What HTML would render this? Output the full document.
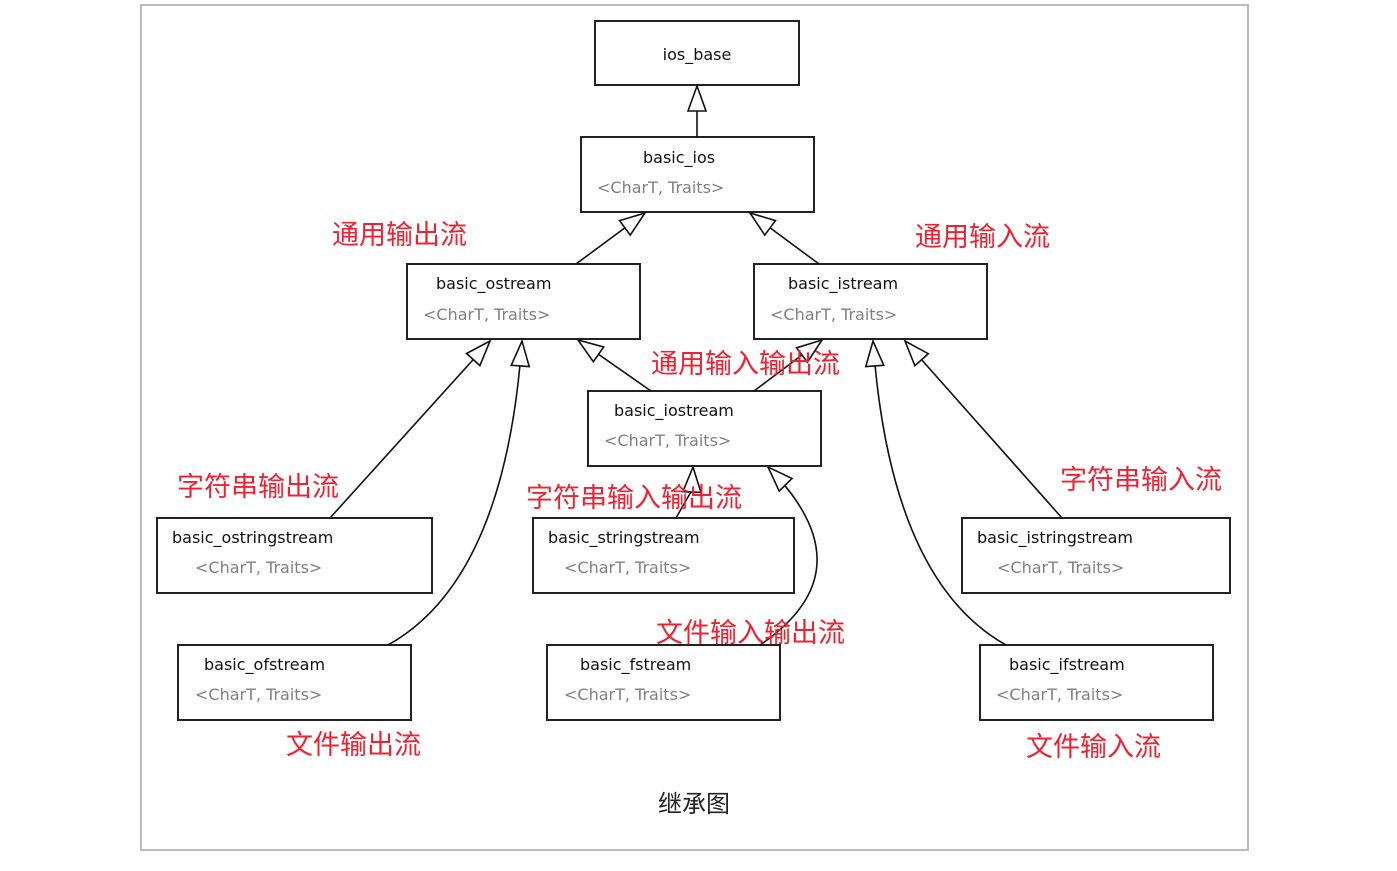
<!DOCTYPE html>
<html><head><meta charset="utf-8"><style>
body{margin:0;background:#fff}
svg{display:block}
.n{font-family:"DejaVu Sans","Liberation Sans",sans-serif;font-size:16px;fill:#111}
.t{font-family:"DejaVu Sans","Liberation Sans",sans-serif;font-size:16px;fill:#808080}
.r{font-family:"Liberation Sans","Noto Sans CJK SC",sans-serif;font-size:27px;fill:#ee2233}
.b{fill:#fff;stroke:#222;stroke-width:2}
.l{fill:none;stroke:#111;stroke-width:1.6}
</style></head><body>
<svg width="1397" height="871" viewBox="0 0 1397 871">
<defs>
<marker id="a" markerUnits="userSpaceOnUse" viewBox="-2 -11 29 22" refX="25" refY="0" markerWidth="29" markerHeight="22" orient="auto">
<path d="M0,-9 L25,0 L0,9 Z" fill="#fff" stroke="#111" stroke-width="1.6"/>
</marker>
</defs>
<rect x="141" y="5" width="1107" height="845" fill="#fff" stroke="#bbb" stroke-width="2"/>
<rect class="b" x="595" y="21" width="204" height="64"/>
<text class="n" x="697" y="60" text-anchor="middle">ios_base</text>
<rect class="b" x="581" y="137" width="233" height="75"/>
<text class="n" x="643" y="163">basic_ios</text><text class="t" x="597" y="193">&lt;CharT, Traits&gt;</text>
<rect class="b" x="407" y="264" width="233" height="75"/>
<text class="n" x="436" y="289">basic_ostream</text><text class="t" x="423" y="320">&lt;CharT, Traits&gt;</text>
<rect class="b" x="754" y="264" width="233" height="75"/>
<text class="n" x="788" y="289">basic_istream</text><text class="t" x="770" y="320">&lt;CharT, Traits&gt;</text>
<rect class="b" x="588" y="391" width="233" height="75"/>
<text class="n" x="614" y="416">basic_iostream</text><text class="t" x="604" y="446">&lt;CharT, Traits&gt;</text>
<rect class="b" x="157" y="518" width="275" height="75"/>
<text class="n" x="172" y="543">basic_ostringstream</text><text class="t" x="195" y="573">&lt;CharT, Traits&gt;</text>
<rect class="b" x="533" y="518" width="261" height="75"/>
<text class="n" x="548" y="543">basic_stringstream</text><text class="t" x="564" y="573">&lt;CharT, Traits&gt;</text>
<rect class="b" x="962" y="518" width="268" height="75"/>
<text class="n" x="977" y="543">basic_istringstream</text><text class="t" x="997" y="573">&lt;CharT, Traits&gt;</text>
<rect class="b" x="178" y="645" width="233" height="75"/>
<text class="n" x="204" y="670">basic_ofstream</text><text class="t" x="195" y="700">&lt;CharT, Traits&gt;</text>
<rect class="b" x="547" y="645" width="233" height="75"/>
<text class="n" x="580" y="670">basic_fstream</text><text class="t" x="564" y="700">&lt;CharT, Traits&gt;</text>
<rect class="b" x="980" y="645" width="233" height="75"/>
<text class="n" x="1009" y="670">basic_ifstream</text><text class="t" x="996" y="700">&lt;CharT, Traits&gt;</text>

<path class="l" d="M697,137 L697,86" marker-end="url(#a)"/>
<path class="l" d="M576,264 L645,213" marker-end="url(#a)"/>
<path class="l" d="M819,264 L750,213" marker-end="url(#a)"/>
<path class="l" d="M651,391 L578,340" marker-end="url(#a)"/>
<path class="l" d="M754,391 L822,340" marker-end="url(#a)"/>
<path class="l" d="M330,518 L490,341" marker-end="url(#a)"/>
<path class="l" d="M388,645 Q505,580 522,341" marker-end="url(#a)"/>
<path class="l" d="M676,518 L692,490 L693,467" marker-end="url(#a)"/>
<path class="l" d="M760,645 Q870,570 768,467" marker-end="url(#a)"/>
<path class="l" d="M1062,518 L905,341" marker-end="url(#a)"/>
<path class="l" d="M1006,645 Q890,580 873,341" marker-end="url(#a)"/>

<text class="r" x="332" y="244">通用输出流</text>
<text class="r" x="915" y="246">通用输入流</text>
<text class="r" x="651" y="373">通用输入输出流</text>
<text class="r" x="177" y="496">字符串输出流</text>
<text class="r" x="526" y="507">字符串输入输出流</text>
<text class="r" x="1060" y="489">字符串输入流</text>
<text class="r" x="656" y="642">文件输入输出流</text>
<text class="r" x="286" y="754">文件输出流</text>
<text class="r" x="1026" y="756">文件输入流</text>
<text x="694" y="812" text-anchor="middle" style="font-family:'Liberation Sans','Noto Sans CJK SC',sans-serif;font-size:24px;fill:#222">继承图</text>
</svg>
</body></html>
